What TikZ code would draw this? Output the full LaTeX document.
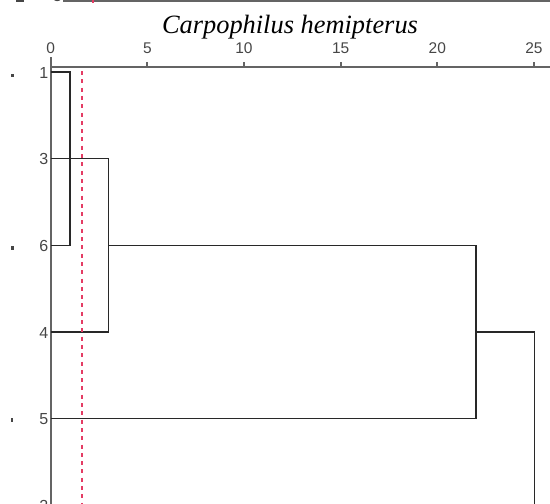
\documentclass[tikz,border=0pt]{standalone}
\usepackage{fontspec}
\setmainfont{Liberation Serif}
\setsansfont{Liberation Sans}
\definecolor{axisgray}{RGB}{100,100,100}
\definecolor{dendrogray}{RGB}{40,40,40}
\definecolor{labgray}{RGB}{70,70,70}
\definecolor{cutred}{RGB}{228,60,100}
\begin{document}
\begin{tikzpicture}[x=1pt,y=-1pt,
  axisline/.style={draw=axisgray,line width=1.8pt},
  dendro/.style={draw=dendrogray,line width=1.5pt},
  ticklab/.style={font=\sffamily\fontsize{15.5}{15.5}\selectfont,text=labgray,inner sep=0pt},
  rowlab/.style={font=\sffamily\fontsize{16}{16}\selectfont,text=labgray,inner sep=0pt,anchor=east},
  cutline/.style={draw=cutred,line width=1.7pt,dash pattern=on 4pt off 4.3pt},
  speck/.style={fill=labgray}]
\useasboundingbox (0,0) rectangle (550,504);
\clip (0,0) rectangle (550,504);

% remnant of the plot above
\draw[axisline] (63,1) -- (550,1);
\draw[draw=cutred,line width=1.4pt] (93,-1) -- (93,3);
\node[rowlab] (prev3) at (62,-4) {3};
\fill[speck] (16,0) rectangle (24,2);

% title
\node[font=\itshape\fontsize{26.4}{26.4}\selectfont,inner sep=0pt,anchor=base] (title) at (290,33) {Carpophilus hemipterus};

% axis
\coordinate (ax0) at (50.7,67);
\coordinate (axE) at (550,67);
\draw[axisline] (ax0) -- (axE);
\foreach \v in {0,5,10,15,20,25}{
  \pgfmathsetmacro{\xx}{50.7+19.33*\v}
  \draw[axisline] (\xx,62) -- (\xx,67);
  \node[ticklab] (t\v) at (\xx,48) {\v};
}
\coordinate (vtop) at (50.7,57);
\coordinate (vbot) at (50.7,510);
\draw[axisline] (vtop) -- (vbot);

% leaves
\foreach \n/\y in {1/72,3/158.7,6/245.3,4/332,5/418.7,2/505.4}{
  \coordinate (leaf\n) at (50.7,\y);
  \node[rowlab] (lab\n) at (48.5,\y+0.5) {\n};
}

% merge points
\coordinate (m16a) at (70,72);
\coordinate (m16b) at (70,245.3);
\coordinate (m34a) at (108.7,158.7);
\coordinate (m34b) at (108.7,332);
\coordinate (m34c) at (108.7,245.3);
\coordinate (mAa) at (476,245.3);
\coordinate (mAc) at (476,332);
\coordinate (mAb) at (476,418.7);
\coordinate (mBa) at (534.3,332);
\coordinate (mBb) at (534.3,510);

\draw[dendro] (leaf1) -- (m16a) -- (m16b) -- (leaf6);
\draw[dendro] (leaf3) -- (m34a) -- (m34b) -- (leaf4);
\draw[dendro] (m34c) -- (mAa) -- (mAb) -- (leaf5);
\draw[dendro] (mAc) -- (mBa) -- (mBb);

% cut line
\coordinate (cutT) at (81.7,71);
\coordinate (cutB) at (81.7,510);
\draw[cutline] (cutT) -- (cutB);

% specks on the left
\fill[speck] (11,74) rectangle (14,77);
\fill[speck] (11,246) rectangle (14,250);
\fill[speck] (11,418) rectangle (13,422);
\end{tikzpicture}
\end{document}
